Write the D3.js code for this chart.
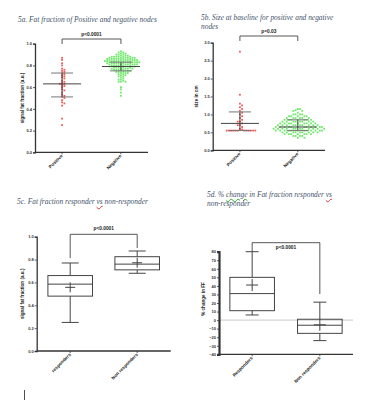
<!DOCTYPE html>
<html>
<head>
<meta charset="utf-8">
<script src="https://cdn.jsdelivr.net/npm/d3@7"></script>
<style>
  body { margin: 0; background: #fff; }
  #wrap { position: relative; width: 385px; height: 400px; overflow: hidden; }
  svg { position: absolute; left: 0; top: 0; }
  .title {
    position: absolute; font-family: "Liberation Serif", serif; font-style: italic;
    font-size: 7.4px; line-height: 9px; color: #44546a; white-space: nowrap;
  }
  .sp-red { text-decoration: underline wavy #d33; }
  .sp-green { text-decoration: underline wavy #3a3; }
  .tick text { font-family: "Liberation Sans", Arial, sans-serif; font-weight: bold; font-size: 4px; fill: #333; }
  .lab { font-family: "Liberation Sans", Arial, sans-serif; font-weight: bold; fill: #222; }
</style>
</head>
<body>
<div id="wrap">
  <div class="title" style="left:18px;top:15px">5a. Fat fraction of Positive and negative nodes</div>
  <div class="title" style="left:201px;top:13px">5b. Size at baseline for positive and negative<br>nodes</div>
  <div class="title" style="left:17px;top:197px">5c. Fat fraction responder <span class="sp-red">vs</span> non-responder</div>
  <div class="title" style="left:207px;top:190px">5d. % <span class="sp-green">change</span> in Fat fraction responder <span class="sp-red">vs</span><br>non-responder</div>
</div>
<script>
// ---------- Data ----------
const dotGroups = ["Positive", "Negative"];
const boxGroups5c = ["responders", "Non responders"];
const boxGroups5d = ["Responders", "Non responders"];

// 5a: signal fat fraction per node
const faPositive = [0.87, 0.85, 0.82, 0.80, 0.77, 0.76, 0.75, 0.74, 0.73, 0.72, 0.71, 0.70,
  0.69, 0.68, 0.66, 0.65, 0.64, 0.63, 0.63, 0.62, 0.61, 0.60, 0.58, 0.57, 0.55, 0.53,
  0.52, 0.51, 0.50, 0.48, 0.46, 0.45, 0.43, 0.31, 0.25];
const faNegative = [0.93, 0.92, 0.92, 0.91, 0.91, 0.90, 0.90, 0.90, 0.89, 0.89, 0.89,
  0.88, 0.88, 0.88, 0.88, 0.88, 0.88, 0.87, 0.87, 0.87, 0.87, 0.87, 0.87,
  0.86, 0.86, 0.86, 0.86, 0.86, 0.86, 0.86, 0.85, 0.85, 0.85, 0.85, 0.85, 0.85, 0.85,
  0.84, 0.84, 0.84, 0.84, 0.84, 0.84, 0.84, 0.84, 0.83, 0.83, 0.83, 0.83, 0.83, 0.83, 0.83, 0.83,
  0.82, 0.82, 0.82, 0.82, 0.82, 0.82, 0.82, 0.81, 0.81, 0.81, 0.81, 0.81, 0.81, 0.81,
  0.80, 0.80, 0.80, 0.80, 0.80, 0.80, 0.79, 0.79, 0.79, 0.79, 0.79, 0.79,
  0.78, 0.78, 0.78, 0.78, 0.78, 0.77, 0.77, 0.77, 0.77, 0.77, 0.76, 0.76, 0.76, 0.76,
  0.75, 0.75, 0.75, 0.75, 0.74, 0.74, 0.74, 0.73, 0.73, 0.73, 0.72, 0.72, 0.71, 0.71,
  0.70, 0.70, 0.69, 0.68, 0.67, 0.67, 0.66, 0.65, 0.65, 0.65, 0.60, 0.58, 0.55, 0.52];
const faMean = [0.63, 0.79];
const faSdHigh = [0.73, 0.83];
const faSdLow = [0.51, 0.75];
const faTicks = [0, 0.2, 0.4, 0.6, 0.8, 1.0];

// 5b: size in cm
const sizePositive = [2.75, 1.55, 1.30, 1.25, 1.20, 1.15, 1.10, 1.05, 1.00, 0.95, 0.90,
  0.85, 0.80, 0.80, 0.75, 0.70, 0.70, 0.65, 0.60, 0.58,
  0.55, 0.55, 0.55, 0.55, 0.55, 0.55, 0.55, 0.55, 0.55, 0.55, 0.55, 0.55];
const sizeNegative = [1.15, 1.15, 1.12, 1.10, 1.10, 1.05, 1.00, 1.00, 1.00, 1.00,
  0.95, 0.95, 0.95, 0.95, 0.95, 0.90, 0.90, 0.90, 0.90, 0.90, 0.90,
  0.85, 0.85, 0.85, 0.85, 0.85, 0.85, 0.85, 0.80, 0.80, 0.80, 0.80, 0.80, 0.80, 0.80, 0.80,
  0.75, 0.75, 0.75, 0.75, 0.75, 0.75, 0.75, 0.75, 0.75,
  0.70, 0.70, 0.70, 0.70, 0.70, 0.70, 0.70, 0.70, 0.70, 0.70,
  0.65, 0.65, 0.65, 0.65, 0.65, 0.65, 0.65, 0.65, 0.65, 0.65, 0.65, 0.65,
  0.60, 0.60, 0.60, 0.60, 0.60, 0.60, 0.60, 0.60, 0.60, 0.60, 0.60, 0.60,
  0.55, 0.55, 0.55, 0.55, 0.55, 0.55, 0.55, 0.55, 0.55, 0.55, 0.55, 0.55,
  0.50, 0.50, 0.50, 0.50, 0.50, 0.50, 0.50, 0.50, 0.50,
  0.45, 0.45, 0.45, 0.45, 0.45, 0.45, 0.45, 0.40, 0.40, 0.40, 0.40, 0.35, 0.35];
const sizeMean = [0.75, 0.65];
const sizeSdHigh = [1.07, 0.85];
const sizeSdLow = [0.55, 0.55];
const sizeTicks = [0, 0.5, 1.0, 1.5, 2.0, 2.5, 3.0];

// 5c: box plot, signal fat fraction
const ffMin = [0.25, 0.68];
const ffQ1 = [0.48, 0.71];
const ffMedian = [0.585, 0.76];
const ffQ3 = [0.66, 0.825];
const ffMax = [0.77, 0.875];
const ffMean = [0.557, 0.772];

// 5d: box plot, % change in FF
const chMin = [6, -24];
const chQ1 = [11, -15.5];
const chMedian = [31, -6];
const chQ3 = [50, 1];
const chMax = [80, 21];
const chMean = [41, -5.5];
const chTicks = [-40, -30, -20, -10, 0, 10, 20, 30, 40, 50, 60, 70, 80];

const svg = d3.select("#wrap").append("svg").attr("width", 385).attr("height", 400);

// ---------- shared helpers ----------
function axes(g, x, y, ticks, fmt, yLabel, labX, o) {
  const [x0, x1] = x.range();
  g.append("g").attr("transform", `translate(${x0},0)`)
    .call(d3.axisLeft(y).tickValues(ticks).tickFormat(fmt).tickSize(2).tickPadding(1))
    .call(s => s.select(".domain").attr("stroke", "#333").attr("stroke-width", o.axisW || 1.3))
    .call(s => s.selectAll(".tick line").attr("stroke", "#333").attr("stroke-width", 0.8));
  const yb = y.range()[0];
  g.append("line").attr("x1", x0).attr("x2", x1).attr("y1", yb).attr("y2", yb)
    .attr("stroke", "#333").attr("stroke-width", 1.3);
  x.domain().forEach(c => {
    g.append("line").attr("x1", x(c)).attr("x2", x(c)).attr("y1", yb).attr("y2", yb + 2)
      .attr("stroke", "#333").attr("stroke-width", 0.8);
    g.append("text").attr("class", "lab").attr("font-size", 4.6)
      .attr("text-anchor", "end")
      .attr("transform", `translate(${x(c) + 1},${yb + 4}) rotate(-45)`)
      .text(c);
  });
  const ym = (y.range()[0] + y.range()[1]) / 2;
  g.append("text").attr("class", "lab").attr("font-size", 4.6)
    .attr("text-anchor", "middle")
    .attr("transform", `translate(${labX},${ym + (o.labDy || 0)}) rotate(-90)`)
    .text(yLabel);
}

function bracket(g, xa, xb, top, ya, yb, label, labelY) {
  g.append("path")
    .attr("d", `M${xa},${ya}V${top}H${xb}V${yb}`)
    .attr("fill", "none").attr("stroke", "#444").attr("stroke-width", 0.9);
  g.append("text").attr("class", "lab").attr("font-size", 4.8)
    .attr("x", (xa + xb) / 2).attr("y", labelY).attr("text-anchor", "middle").text(label);
}

// simple beeswarm: nudge each point sideways until it clears the others
function swarm(values, y, sx, sy) {
  const placed = [];
  values.slice().sort((a, b) => b - a).forEach(v => {
    const py = y(v);
    let k = 0, dx = 0;
    while (true) {
      dx = k === 0 ? 0 : (k % 2 ? 1 : -1) * Math.ceil(k / 2) * sx;
      if (!placed.some(p => Math.abs(p.dx - dx) < sx - 0.01 && Math.abs(p.py - py) < sy - 0.01)) break;
      k++;
    }
    placed.push({ dx, py });
  });
  return placed;
}

function dotPanel(o) {
  const g = svg.append("g");
  const x = d3.scalePoint().domain(dotGroups).range(o.xr).padding(o.pad);
  const y = d3.scaleLinear().domain(o.yd).range(o.yr);
  axes(g, x, y, o.ticks, d3.format(".1f"), o.yLabel, o.labX, o);
  [o.a, o.b].forEach((vals, i) => {
    const cx = x(dotGroups[i]);
    g.append("g").selectAll("rect").data(swarm(vals, y, o.sx, o.sy)).join("rect")
      .attr("x", d => cx + d.dx - 0.9).attr("y", d => d.py - 0.9)
      .attr("width", 1.8).attr("height", 1.8)
      .attr("fill", i === 0 ? "#f25a5a" : "#6fe86a");
    g.append("line").attr("x1", cx).attr("x2", cx)
      .attr("y1", y(o.hi[i])).attr("y2", y(o.lo[i])).attr("stroke", "#333").attr("stroke-width", 0.9);
    g.append("line").attr("x1", cx - 19).attr("x2", cx + 19)
      .attr("y1", y(o.mean[i])).attr("y2", y(o.mean[i])).attr("stroke", "#444").attr("stroke-width", 1);
    [o.hi[i], o.lo[i]].forEach(v => {
      g.append("line").attr("x1", cx - 11).attr("x2", cx + 11)
        .attr("y1", y(v)).attr("y2", y(v)).attr("stroke", "#777").attr("stroke-width", 1);
    });
  });
  bracket(g, x(dotGroups[0]), x(dotGroups[1]), o.bTop, o.bTop + 5, o.bTop + 5, o.p, o.bTop - 3);
}

function boxPanel(o) {
  const g = svg.append("g");
  const x = d3.scalePoint().domain(o.groups).range(o.xr).padding(o.pad);
  const y = d3.scaleLinear().domain(o.yd).range(o.yr);
  if (o.zero) {
    g.append("line").attr("x1", o.xr[0]).attr("x2", o.xr[1]).attr("y1", y(0)).attr("y2", y(0))
      .attr("stroke", "#bbb").attr("stroke-width", 0.8);
  }
  axes(g, x, y, o.ticks, o.fmt, o.yLabel, o.labX, o);
  const bw = 44.6, cw = o.cap;
  o.groups.forEach((c, i) => {
    const cx = x(c);
    const ln = (x1, y1, x2, y2) => g.append("line")
      .attr("x1", x1).attr("y1", y1).attr("x2", x2).attr("y2", y2)
      .attr("stroke", "#444").attr("stroke-width", 1);
    ln(cx, y(o.max[i]), cx, y(o.q3[i]));
    ln(cx, y(o.q1[i]), cx, y(o.min[i]));
    ln(cx - cw / 2, y(o.max[i]), cx + cw / 2, y(o.max[i]));
    ln(cx - cw / 2, y(o.min[i]), cx + cw / 2, y(o.min[i]));
    g.append("rect").attr("x", cx - bw / 2).attr("y", y(o.q3[i]))
      .attr("width", bw).attr("height", y(o.q1[i]) - y(o.q3[i]))
      .attr("fill", "none").attr("stroke", "#444").attr("stroke-width", 1);
    ln(cx - bw / 2, y(o.med[i]), cx + bw / 2, y(o.med[i]));
    const m = y(o.mean[i]), pl = o.plus;
    ln(cx - pl, m, cx + pl, m);
    ln(cx, m - pl, cx, m + pl);
  });
  const xa = x(o.groups[0]), xb = x(o.groups[1]);
  bracket(g, xa, xb, o.bTop, o.bA, o.bB, o.p, o.pY);
}

// ---------- Panels ----------
dotPanel({ xr: [35, 148], pad: 0.46, yd: [0, 1], yr: [152.3, 43.7], ticks: faTicks,
  yLabel: "signal fat fraction (a.u.)", labX: 24, a: faPositive, b: faNegative,
  sx: 2.3, sy: 1.8,
  mean: faMean, hi: faSdHigh, lo: faSdLow, bTop: 39, p: "p<0.0001" });

dotPanel({ xr: [212.7, 325], pad: 0.47, yd: [0, 3], yr: [150.3, 42.7], ticks: sizeTicks,
  yLabel: "size in cm", labX: 198, a: sizePositive, b: sizeNegative,
  sx: 2.2, sy: 1.95,
  mean: sizeMean, hi: sizeSdHigh, lo: sizeSdLow, bTop: 36, p: "p=0.03" });

boxPanel({ groups: boxGroups5c, xr: [36.7, 170.7], pad: 0.5, yd: [0, 1], yr: [351, 236.7],
  ticks: faTicks, fmt: d3.format(".1f"), yLabel: "signal fat fraction (a.u.)", labX: 24,
  min: ffMin, q1: ffQ1, med: ffMedian, q3: ffQ3, max: ffMax, mean: ffMean,
  cap: 17, plus: 5, bTop: 234.3, bA: 258, bB: 248, p: "p<0.0001", pY: 230 });

boxPanel({ groups: boxGroups5d, xr: [219, 353], pad: 0.49, yd: [-40, 80], yr: [354.3, 251.7],
  ticks: chTicks, fmt: d3.format("d"), yLabel: "% change in FF", labX: 205, labDy: -4, axisW: 2.2,
  zero: true, min: chMin, q1: chQ1, med: chMedian, q3: chQ3, max: chMax, mean: chMean,
  cap: 13, plus: 6, bTop: 242.7, bA: 251.7, bB: 294, p: "p<0.0001", pY: 248.5 });

// text cursor mark left in the page
svg.append("line").attr("x1", 24.5).attr("x2", 24.5).attr("y1", 390).attr("y2", 400)
  .attr("stroke", "#222").attr("stroke-width", 0.8);
</script>
</body>
</html>
